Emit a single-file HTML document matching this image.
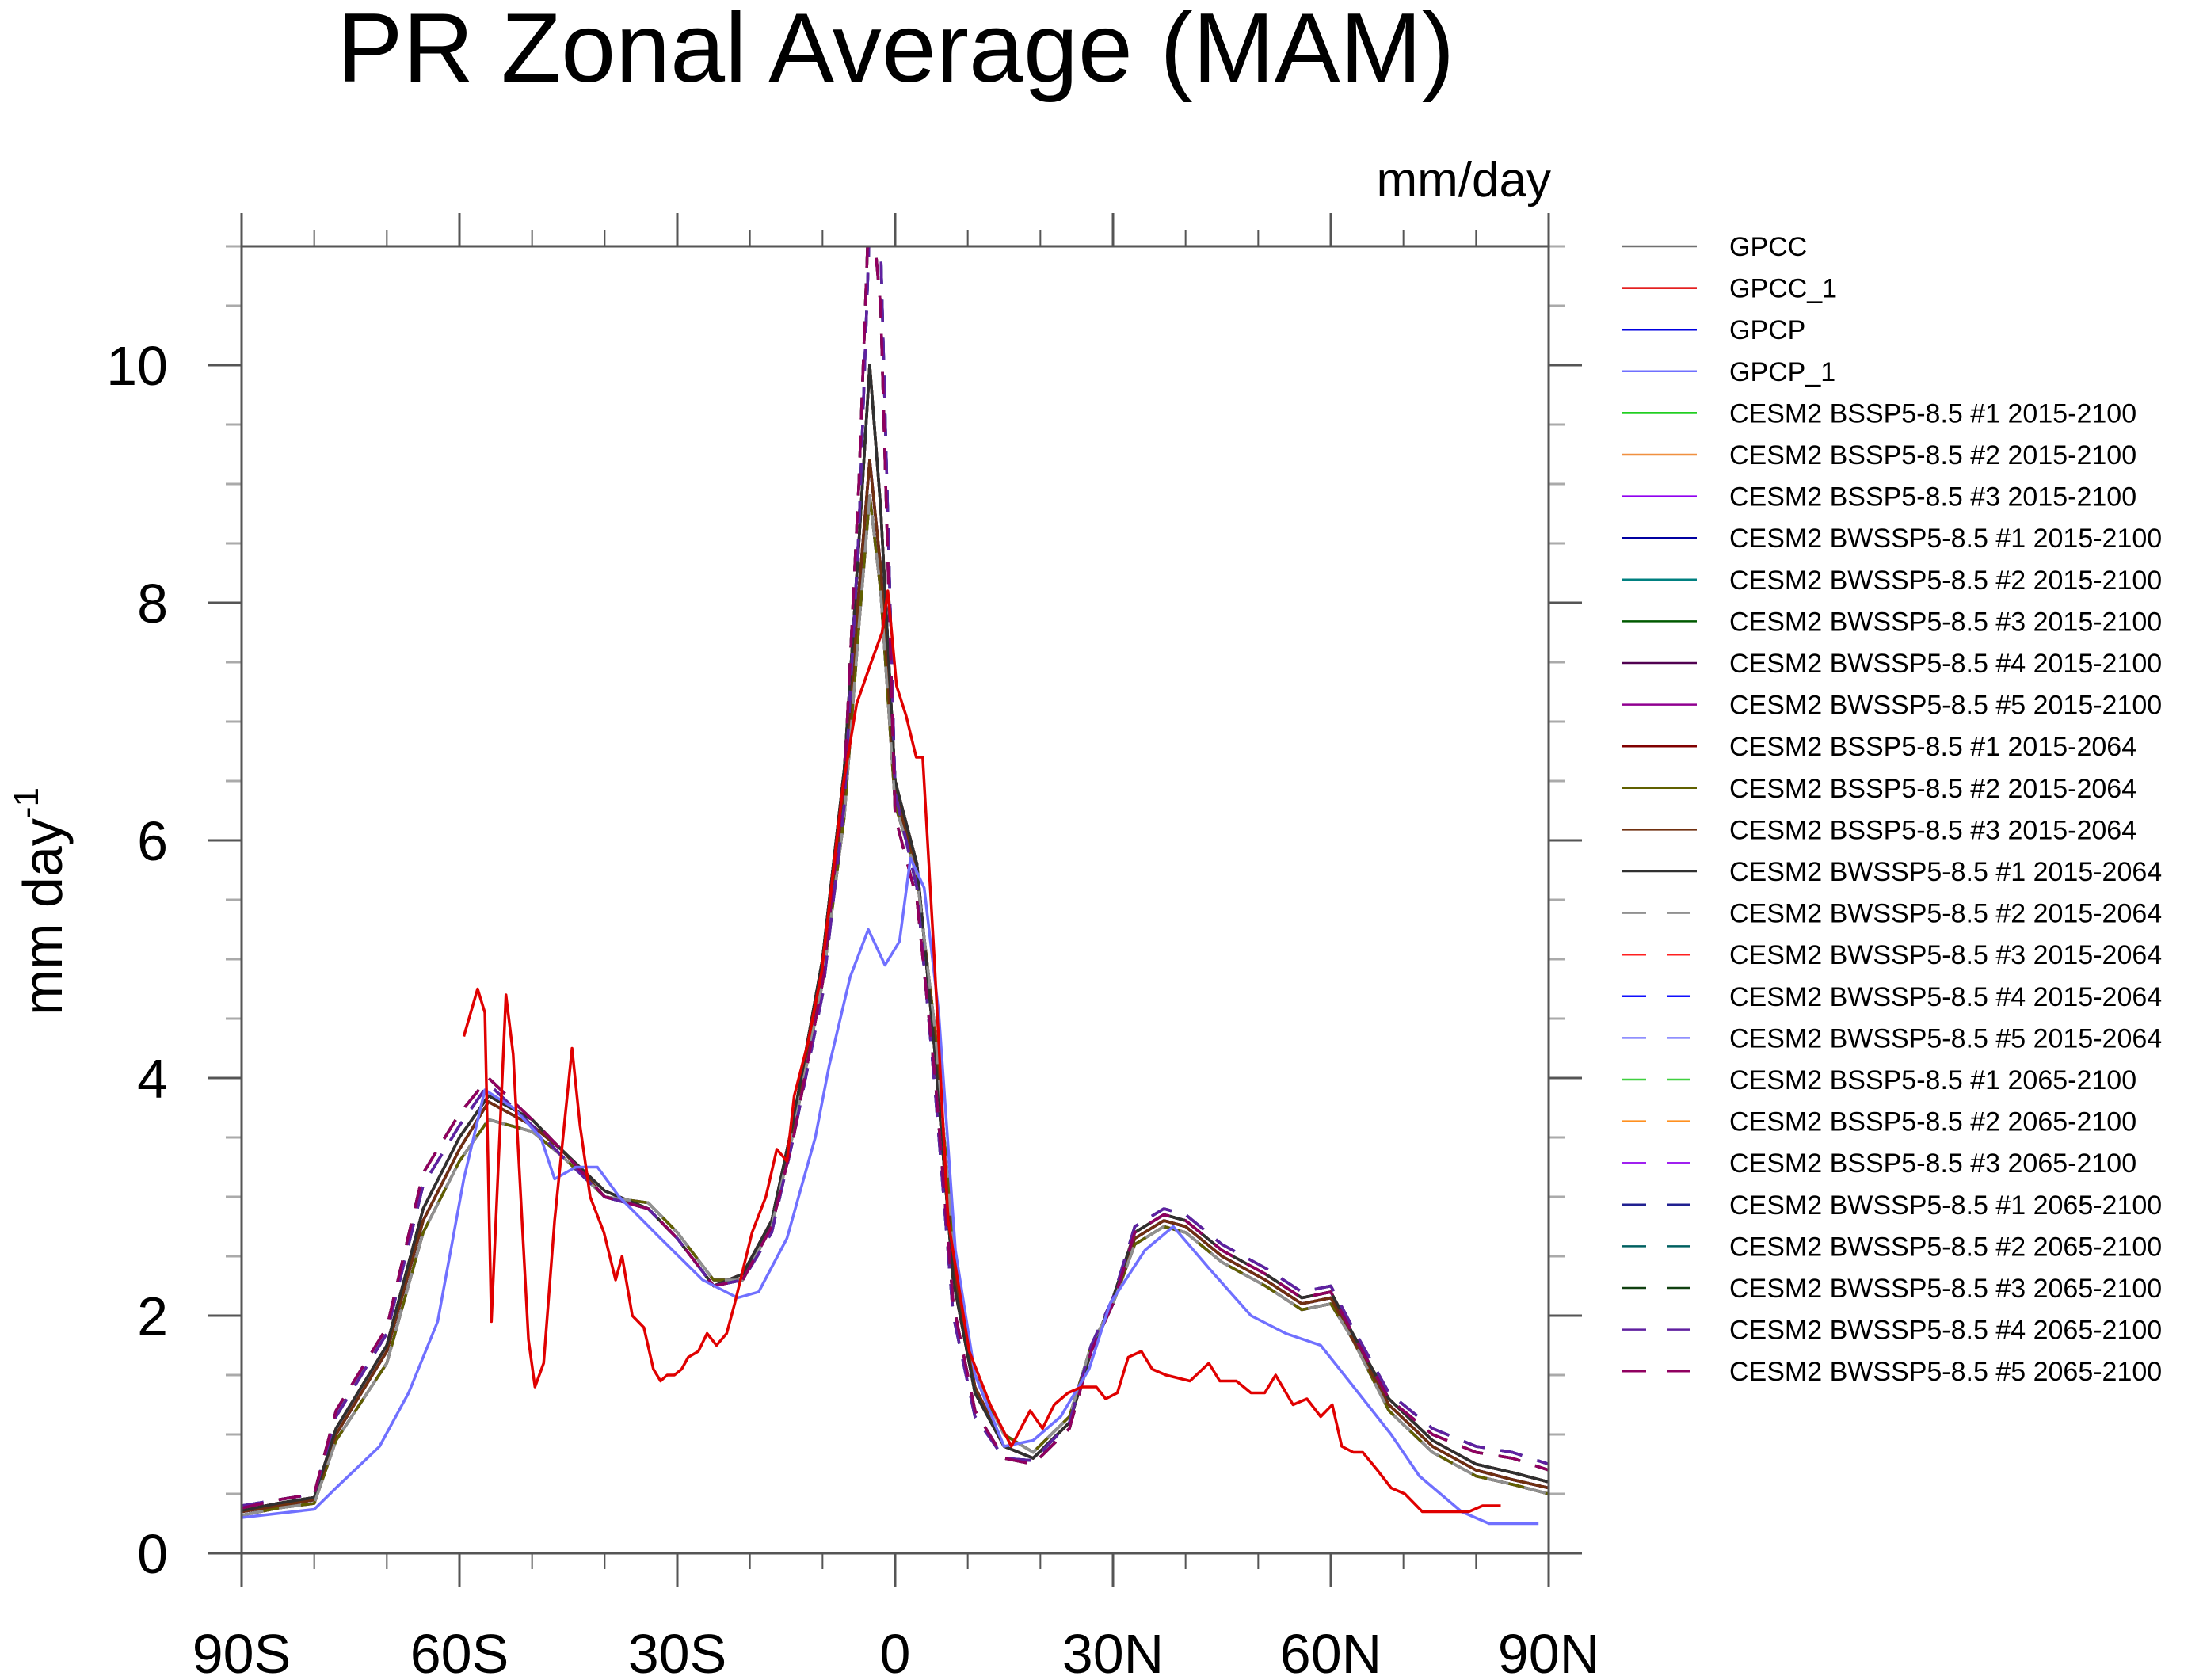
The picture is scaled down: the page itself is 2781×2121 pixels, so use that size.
<!DOCTYPE html>
<html><head><meta charset="utf-8"><style>
html,body{margin:0;padding:0;background:#fff;}
svg{display:block;font-family:"Liberation Sans",sans-serif;}
</style></head><body>
<svg id="chart" width="2781" height="2121" viewBox="0 0 2781 2121">
<text x="1131" y="103" font-size="124" text-anchor="middle">PR Zonal Average (MAM)</text>
<text x="1958" y="248" font-size="62" text-anchor="end">mm/day</text>
<text transform="translate(78,1138) rotate(-90)" font-size="70" text-anchor="middle">mm day<tspan dy="-30" font-size="44">-1</tspan></text>
<defs><clipPath id="pc"><rect x="305" y="311" width="1650" height="1650"/></clipPath></defs>
<g id="ticks"></g>
<g id="series" clip-path="url(#pc)"></g>
<rect x="305" y="311" width="1650" height="1650" fill="none" stroke="#555" stroke-width="3"/>
<g id="legend"></g>
</svg>
<script>
const lats=[-90,-85,-80,-77,-70,-65,-60,-56,-50,-46,-40,-34,-30,-25,-21,-17,-14,-10,-7,-5,-3.5,-2,0,3,5.5,8,11,15,19,24,27,30,33,37,40,45,51,56,60,63,68,74,80,85,90];
const M1=[0.35,0.4,0.45,1.0,1.7,2.8,3.4,3.8,3.6,3.4,3.0,2.9,2.65,2.25,2.35,2.8,3.6,4.9,6.4,8.1,9.2,8.3,6.4,5.75,4.3,2.4,1.4,0.9,0.8,1.1,1.7,2.1,2.65,2.8,2.75,2.5,2.3,2.1,2.15,1.8,1.25,0.9,0.7,0.62,0.55];
const M2=[0.32,0.38,0.42,0.95,1.6,2.7,3.3,3.65,3.55,3.35,3.0,2.95,2.7,2.3,2.3,2.75,3.55,4.8,6.2,7.8,8.9,8.1,6.3,5.7,4.4,2.6,1.5,1.0,0.85,1.15,1.75,2.1,2.6,2.75,2.7,2.45,2.25,2.05,2.1,1.8,1.2,0.85,0.65,0.58,0.5];
const M3=[0.36,0.42,0.47,1.05,1.75,2.9,3.5,3.85,3.65,3.4,3.05,2.9,2.65,2.25,2.35,2.8,3.65,5.0,6.6,8.5,10.0,8.8,6.5,5.8,4.2,2.3,1.35,0.9,0.8,1.1,1.7,2.15,2.7,2.85,2.8,2.55,2.35,2.15,2.2,1.85,1.3,0.95,0.75,0.68,0.6];
const D1=[0.38,0.45,0.5,1.2,1.9,3.2,3.7,4.0,3.65,3.4,3.0,2.9,2.65,2.25,2.3,2.75,3.5,4.8,6.5,9.0,11.5,10.5,6.2,5.5,4.0,2.1,1.2,0.8,0.75,1.05,1.7,2.1,2.7,2.85,2.8,2.55,2.35,2.15,2.2,1.85,1.3,1.0,0.85,0.8,0.7];
const D2=[0.4,0.45,0.5,1.15,1.85,3.1,3.6,3.95,3.6,3.35,3.0,2.9,2.65,2.25,2.3,2.7,3.5,4.7,6.3,8.6,11.2,11.0,6.4,5.6,3.9,2.0,1.15,0.8,0.78,1.1,1.75,2.15,2.75,2.9,2.85,2.6,2.4,2.2,2.25,1.9,1.35,1.05,0.9,0.85,0.75];
const gpcc1Lats=[-59.4,-57.5,-56.5,-55.6,-53.6,-52.6,-51.3,-50.5,-49.6,-48.4,-46.9,-44.5,-43.4,-42,-40.1,-38.5,-37.6,-36.2,-34.6,-33.3,-32.3,-31.4,-30.4,-29.4,-28.5,-27.1,-25.9,-24.6,-23.2,-22.1,-19.7,-17.8,-16.3,-14.9,-13.9,-12,-10.1,-7.2,-5.3,-3.3,-1.8,-1,0.2,1.5,2.9,3.8,5.4,7.3,10.2,13.1,16,18.6,20.3,21.9,23.8,25.7,27.7,29,30.6,32.1,33.9,35.4,37.3,40.6,43.2,44.7,47,49,50.9,52.4,54.8,56.7,58.6,60.2,61.5,63.1,64.4,66.4,68.3,70.2,72.6,76.1,79,80.9,83.4];
const gpcc1Vals=[4.35,4.75,4.55,1.95,4.7,4.2,2.7,1.8,1.4,1.6,2.8,4.25,3.6,3.0,2.7,2.3,2.5,2.0,1.9,1.55,1.45,1.5,1.5,1.55,1.65,1.7,1.85,1.75,1.85,2.1,2.7,3.0,3.4,3.3,3.85,4.3,4.9,6.45,7.15,7.5,7.75,8.1,7.3,7.05,6.7,6.7,5.0,2.8,1.7,1.25,0.9,1.2,1.05,1.25,1.35,1.4,1.4,1.3,1.35,1.65,1.7,1.55,1.5,1.45,1.6,1.45,1.45,1.35,1.35,1.5,1.25,1.3,1.15,1.25,0.9,0.85,0.85,0.7,0.55,0.5,0.35,0.35,0.35,0.4,0.4];
const gpcp1Lats=[-90,-80,-77,-71,-67,-63,-59.4,-56.5,-52.6,-48.8,-46.9,-44,-41,-38,-32.3,-26.5,-21.7,-18.8,-14.9,-11,-9.1,-6.2,-3.7,-1.4,0.6,2.1,4,6,8.3,11,15,19,22.8,26.7,29.6,34.4,38.3,43.2,49,53.8,58.6,62.5,68.3,72.2,78,81.8,85.7,88.6];
const gpcp1Vals=[0.3,0.37,0.55,0.9,1.35,1.95,3.15,3.9,3.75,3.5,3.15,3.25,3.25,3.0,2.65,2.3,2.15,2.2,2.65,3.5,4.1,4.85,5.25,4.95,5.15,5.85,5.6,4.55,2.55,1.5,0.9,0.95,1.15,1.55,2.1,2.55,2.75,2.4,2.0,1.85,1.75,1.45,1.0,0.65,0.35,0.25,0.25,0.25];
const seriesNames=["GPCC","GPCC_1","GPCP","GPCP_1","CESM2 BSSP5-8.5 #1 2015-2100","CESM2 BSSP5-8.5 #2 2015-2100","CESM2 BSSP5-8.5 #3 2015-2100","CESM2 BWSSP5-8.5 #1 2015-2100","CESM2 BWSSP5-8.5 #2 2015-2100","CESM2 BWSSP5-8.5 #3 2015-2100","CESM2 BWSSP5-8.5 #4 2015-2100","CESM2 BWSSP5-8.5 #5 2015-2100","CESM2 BSSP5-8.5 #1 2015-2064","CESM2 BSSP5-8.5 #2 2015-2064","CESM2 BSSP5-8.5 #3 2015-2064","CESM2 BWSSP5-8.5 #1 2015-2064","CESM2 BWSSP5-8.5 #2 2015-2064","CESM2 BWSSP5-8.5 #3 2015-2064","CESM2 BWSSP5-8.5 #4 2015-2064","CESM2 BWSSP5-8.5 #5 2015-2064","CESM2 BSSP5-8.5 #1 2065-2100","CESM2 BSSP5-8.5 #2 2065-2100","CESM2 BSSP5-8.5 #3 2065-2100","CESM2 BWSSP5-8.5 #1 2065-2100","CESM2 BWSSP5-8.5 #2 2065-2100","CESM2 BWSSP5-8.5 #3 2065-2100","CESM2 BWSSP5-8.5 #4 2065-2100","CESM2 BWSSP5-8.5 #5 2065-2100"];
const seriesData=[M2,gpcc1Vals,M1,gpcp1Vals,M3,M1,M3,M1,M2,M3,M1,M2,M3,M2,M1,M3,M2,D1,D2,D1,D2,D1,D2,D1,D2,D1,D2,D1];
const xTickVals=[-90,-60,-30,0,30,60,90];
const xTickLabels=["90S","60S","30S","0","30N","60N","90N"];
const yTickVals=[0,2,4,6,8,10];
const colors=["#707070","#e00000","#0000e0","#7070ff","#00c800","#f09040","#9000f0","#0000a0","#008080","#005a00","#500050","#900090","#800000","#606000","#703010","#303030","#909090","#ff2020","#1010ff","#8080ff","#40d040","#ff9020","#a020f0","#202090","#006060","#104010","#6020a0","#900060"];
const NS="http://www.w3.org/2000/svg";
const X0=305,X1=1955,Y0=1961,Y1=311,YMAX=11;
const xs=v=>X0+(v+90)/180*(X1-X0);
const ys=v=>Y0-v/YMAX*(Y0-Y1);
const svg=document.getElementById('chart');
function mk(t,a,p){const e=document.createElementNS(NS,t);for(const k in a)e.setAttribute(k,a[k]);p.appendChild(e);return e;}
const tg=document.getElementById('ticks');
for(let d=-90;d<=90;d+=10){const maj=d%30===0;const L=maj?42:20;const x=xs(d);
 const t1=mk('line',{x1:x,x2:x,y1:Y0,y2:Y0+L,stroke:'#555','stroke-width':maj?3:2},tg);
 
 
 const t2=mk('line',{x1:x,x2:x,y1:Y1,y2:Y1-L,stroke:'#555','stroke-width':maj?3:2},tg);
 
 }
for(let v=0;v<=11.001;v+=0.5){const maj=Math.abs(v%2)<1e-6;const L=maj?42:20;const y=ys(v);
 const t1=mk('line',{x1:X0-L,x2:X0,y1:y,y2:y,stroke:maj?'#555':'#aaa','stroke-width':3},tg);
 
 
 const t2=mk('line',{x1:X1,x2:X1+L,y1:y,y2:y,stroke:maj?'#555':'#aaa','stroke-width':3},tg);
 
 }
xTickVals.forEach((v,i)=>{const t=mk('text',{x:xs(v),y:2112,'font-size':70,'text-anchor':'middle'},svg);t.textContent=xTickLabels[i];
 
 });
yTickVals.forEach(v=>{const t=mk('text',{x:212,y:ys(v)+25,'font-size':70,'text-anchor':'end'},svg);t.textContent=String(v);
 
 });
const sg=document.getElementById('series');
const lg=document.getElementById('legend');
const order=[0,2,4,5,6,7,8,9,10,11,12,13,14,15,16,17,18,19,20,21,22,23,24,25,26,27,3,1];
order.forEach(i=>{const vals=seriesData[i];const la=i===1?gpcc1Lats:(i===3?gpcp1Lats:lats);
 const d=vals.map((v,k)=>(k?'L':'M')+xs(la[k]).toFixed(1)+','+ys(v).toFixed(1)).join('');
 const a={d:d,fill:'none',stroke:colors[i],'stroke-width':3.5,'stroke-linejoin':'round'};
 if(i>=16)a['stroke-dasharray']='28 20';
 const p=mk('path',a,sg);
 
 });
seriesNames.forEach((n,i)=>{const y=311+i*52.6;
 const a={x1:2048,x2:2142,y1:y,y2:y,stroke:colors[i],'stroke-width':2.5};
 if(i>=16)a['stroke-dasharray']='30 26';
 const l=mk('line',a,lg);
 
 
 const t=mk('text',{x:2183,y:y+12,'font-size':34},lg);t.textContent=n;
 
 });
</script>
</body></html>
